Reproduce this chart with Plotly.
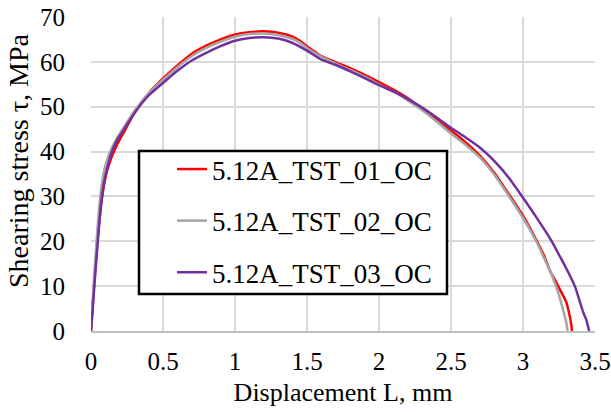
import plotly.graph_objects as go

# Series 01 (red)
L1 = [0, 0.01, 0.03, 0.05, 0.07, 0.09, 0.11, 0.14, 0.18, 0.24, 0.3, 0.4, 0.5, 0.6, 0.7, 0.8, 0.9,
      1.0, 1.1, 1.2, 1.3, 1.4, 1.45, 1.5, 1.6, 1.7, 1.8, 1.9, 2.0, 2.1, 2.2, 2.3, 2.4, 2.5, 2.6,
      2.7, 2.8, 2.9, 3.0, 3.1, 3.15, 3.19, 3.22, 3.26, 3.3, 3.32, 3.335, 3.34]
T1 = [0, 5, 14, 22, 28, 32.5, 35.5, 38.5, 41.5, 45, 48.5, 53, 56.3, 59.2, 61.8, 63.6, 65,
      66.1, 66.6, 66.8, 66.5, 65.6, 64.7, 63.5, 61.3, 59.9, 58.6, 57.1, 55.5, 53.8, 51.9, 49.6, 47.2, 44.7, 42.1,
      39.1, 35.3, 30.6, 25.7, 19.8, 16.5, 13.2, 11.5, 9, 6.5, 4, 1.5, 0]

# Series 02 (gray)
L2 = [0, 0.01, 0.03, 0.05, 0.07, 0.09, 0.11, 0.14, 0.18, 0.24, 0.3, 0.4, 0.5, 0.6, 0.7, 0.8, 0.9,
      1.0, 1.1, 1.2, 1.3, 1.4, 1.45, 1.5, 1.6, 1.7, 1.8, 1.9, 2.0, 2.1, 2.2, 2.3, 2.4, 2.5, 2.6,
      2.7, 2.8, 2.9, 3.0, 3.1, 3.15, 3.2, 3.25, 3.28, 3.3, 3.31]
T2 = [0, 6, 16, 25, 31.5, 35.5, 38, 40.5, 43, 46, 49, 53, 56, 58.8, 61.3, 63.1, 64.5,
      65.6, 66.2, 66.3, 66, 65.1, 64.3, 63.1, 61.1, 59.6, 58.2, 56.7, 55, 53.4, 51.4, 49.2, 46.7, 44.0, 41.5,
      38.7, 34.9, 30.2, 25.2, 19.5, 16, 12.5, 8, 4.5, 2, 0]

# Series 03 (purple)
L3 = [0, 0.01, 0.03, 0.05, 0.07, 0.09, 0.11, 0.14, 0.18, 0.24, 0.3, 0.4, 0.5, 0.6, 0.7, 0.8, 0.9,
      1.0, 1.1, 1.2, 1.3, 1.4, 1.5, 1.6, 1.7, 1.8, 1.9, 2.0, 2.1, 2.2, 2.3, 2.4, 2.5, 2.6, 2.7,
      2.8, 2.9, 3.0, 3.1, 3.2, 3.25, 3.3, 3.36, 3.4, 3.42, 3.44, 3.45, 3.46]
T3 = [0, 4, 13, 21, 28.5, 33, 36, 39.5, 42.5, 45.5, 48.5, 52.5, 55.3, 58, 60.3, 62, 63.5,
      64.7, 65.3, 65.5, 65.2, 64.2, 62.5, 60.5, 59.3, 57.9, 56.4, 54.8, 53.4, 51.7, 49.8, 47.6, 45.3, 43.2, 40.9,
      37.9, 34.2, 29.7, 25, 20, 17, 14, 10, 6, 4, 2.5, 1.2, 0]

names = ["5.12A_TST_01_OC", "5.12A_TST_02_OC", "5.12A_TST_03_OC"]
colors = ["#ff0000", "#a5a5a5", "#7030a0"]
x_title = "Displacement L, mm"
y_title = "Shearing stress τ, MPa"

FONT = "Times New Roman"

fig = go.Figure()
for i, (x, y) in enumerate([(L1, T1), (L2, T2), (L3, T3)]):
    fig.add_trace(go.Scatter(x=x, y=y, mode="lines", name=names[i],
                             legendgroup=f"g{i}",
                             line=dict(color=colors[i], width=2.5, shape="spline", smoothing=0.6)))

# legend frame (Excel-style box)
fig.add_shape(type="rect", xref="paper", yref="paper",
              x0=(139 - 91) / 504, x1=(447 - 91) / 504,
              y0=(331 - 294) / 314, y1=(331 - 151) / 314,
              fillcolor="white", line=dict(color="black", width=2.5), layer="above")

# y-axis title (placed like the Excel chart, slightly above the plot centre)
fig.add_annotation(text=y_title, textangle=-90, showarrow=False,
                   xref="paper", yref="paper",
                   x=(18 - 91) / 504, y=(331 - 161) / 314, xanchor="center", yanchor="middle",
                   font=dict(family=FONT, size=28, color="black"))

fig.update_layout(
    width=611, height=413,
    margin=dict(l=91, r=16, t=17, b=82),
    paper_bgcolor="white", plot_bgcolor="white",
    font=dict(family=FONT, color="black", size=25),
    showlegend=True,
    legend=dict(x=(172 - 91) / 504, y=(331 - 145) / 314, xanchor="left", yanchor="top",
                bgcolor="rgba(0,0,0,0)", borderwidth=0,
                font=dict(family=FONT, size=27, color="black"),
                tracegroupgap=13.5, traceorder="grouped"),
    xaxis=dict(range=[0, 3.5], dtick=0.5, tick0=0, showgrid=True, gridcolor="#d9d9d9", gridwidth=1.5,
               showline=True, linecolor="#bfbfbf", linewidth=2, zeroline=False, automargin=False,
               ticks="outside", ticklen=7, tickcolor="rgba(0,0,0,0)",
               tickfont=dict(family=FONT, size=25),
               title=dict(text=x_title, font=dict(family=FONT, size=26), standoff=9)),
    yaxis=dict(range=[0, 70], dtick=10, tick0=0, showgrid=True, gridcolor="#d9d9d9", gridwidth=1.5,
               showline=False, zeroline=False, automargin=False,
               ticks="outside", ticklen=20, tickcolor="rgba(0,0,0,0)",
               tickfont=dict(family=FONT, size=25)),
)

fig.write_html("out.html")
